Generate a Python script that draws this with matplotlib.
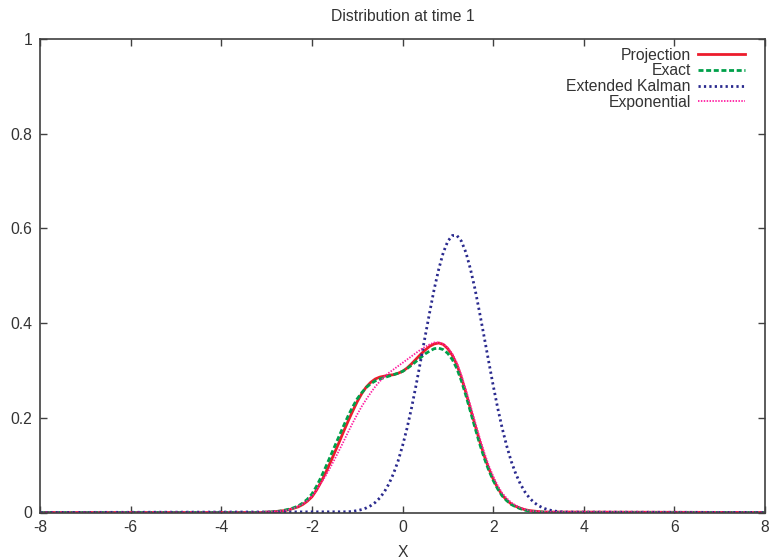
import numpy as np
import matplotlib
matplotlib.use("Agg")
import matplotlib.pyplot as plt

# densités, grille commune pas 0.1 (-3.2..3.2) + bords du domaine
x_grid = [-8.0] + [round(-3.2 + 0.1 * i, 1) for i in range(65)] + [8.0]
projection = [0.0,
              0.000, 0.000, 0.001, 0.001, 0.002, 0.003, 0.004, 0.006, 0.009, 0.012,
              0.017, 0.024, 0.033, 0.047, 0.064, 0.083, 0.104, 0.126, 0.148, 0.171,
              0.193, 0.214, 0.234, 0.251, 0.265, 0.275, 0.282, 0.286, 0.288, 0.290,
              0.291, 0.294, 0.298, 0.305, 0.314, 0.324, 0.334, 0.343, 0.351, 0.356,
              0.358, 0.355, 0.346, 0.332, 0.312, 0.285, 0.253, 0.219, 0.185, 0.152,
              0.121, 0.094, 0.071, 0.052, 0.037, 0.026, 0.018, 0.013, 0.009, 0.006,
              0.004, 0.003, 0.002, 0.001, 0.001,
              0.0]
exact = [0.0,
         0.000, 0.000, 0.001, 0.001, 0.002, 0.003, 0.005, 0.007, 0.010, 0.014,
         0.020, 0.028, 0.039, 0.055, 0.074, 0.095, 0.117, 0.139, 0.161, 0.183,
         0.204, 0.223, 0.240, 0.253, 0.264, 0.272, 0.278, 0.282, 0.285, 0.288,
         0.291, 0.294, 0.298, 0.304, 0.311, 0.319, 0.327, 0.335, 0.341, 0.346,
         0.347, 0.344, 0.336, 0.323, 0.304, 0.278, 0.247, 0.213, 0.179, 0.146,
         0.116, 0.090, 0.068, 0.050, 0.035, 0.025, 0.017, 0.012, 0.008, 0.005,
         0.003, 0.002, 0.001, 0.001, 0.000,
         0.0]
exponential = [0.0,
               0.000, 0.000, 0.001, 0.001, 0.002, 0.003, 0.004, 0.006, 0.009, 0.013,
               0.018, 0.025, 0.034, 0.047, 0.062, 0.077, 0.094, 0.112, 0.131, 0.150,
               0.170, 0.189, 0.207, 0.224, 0.239, 0.253, 0.266, 0.277, 0.287, 0.295,
               0.302, 0.309, 0.316, 0.323, 0.330, 0.337, 0.344, 0.350, 0.355, 0.359,
               0.359, 0.356, 0.348, 0.335, 0.316, 0.290, 0.259, 0.226, 0.192, 0.159,
               0.128, 0.100, 0.077, 0.057, 0.041, 0.030, 0.021, 0.015, 0.010, 0.007,
               0.004, 0.003, 0.002, 0.001, 0.001,
               0.0]

x_kalman = [-8.0] + [round(-1.2 + 0.1 * i, 1) for i in range(49)] + [8.0]
kalman = [0.0,
          0.0015, 0.0025, 0.004, 0.0062, 0.0096, 0.0145, 0.0214, 0.0309, 0.0437, 0.0605,
          0.0818, 0.108, 0.1405, 0.178, 0.221, 0.269, 0.320, 0.372, 0.423, 0.472,
          0.514, 0.549, 0.573, 0.585, 0.585, 0.573, 0.549, 0.514, 0.472, 0.423,
          0.372, 0.320, 0.269, 0.221, 0.178, 0.1405, 0.108, 0.0818, 0.0605, 0.0437,
          0.0309, 0.0214, 0.0145, 0.0096, 0.0062, 0.004, 0.0025, 0.0015, 0.0009,
          0.0]

x_ticks = [-8, -6, -4, -2, 0, 2, 4, 6, 8]
y_ticks = [0, 0.2, 0.4, 0.6, 0.8, 1]

plt.rcParams["font.family"] = ["Liberation Sans", "DejaVu Sans"]
plt.rcParams["axes.unicode_minus"] = False
txt = "#333333"
fs = 11.3

fig = plt.figure(figsize=(7.72, 5.59), dpi=100, facecolor="white")
ax = fig.add_axes([40 / 772, 1 - 512.5 / 559, 725 / 772, 473.5 / 559])

ax.plot(x_grid, projection, color="#ec1c2c", lw=2.0, label="Projection")
ax.plot(x_grid, exact, color="#00a04a", lw=2.0, dashes=(1.8, 0.95), label="Exact")
ax.plot(x_kalman, kalman, color="#2a2a8e", lw=2.0, dashes=(0.8, 1.15), label="Extended Kalman")
ax.plot(x_grid, exponential, color="#ff1ca0", lw=1.3, dashes=(0.8, 0.8), label="Exponential")

ax.set_xlim(-8, 8)
ax.set_ylim(0, 1)
ax.set_xticks(x_ticks)
ax.set_xticklabels([str(v) for v in x_ticks])
ax.set_yticks(y_ticks)
ax.set_yticklabels(["0", "0.2", "0.4", "0.6", "0.8", "1"])
ax.tick_params(direction="in", length=5, width=1, colors="#404040", labelcolor=txt,
               labelsize=fs, top=True, right=True)
ax.tick_params(axis="x", pad=5.5)
ax.tick_params(axis="y", pad=5.5)
for s in ax.spines.values():
    s.set_color("#404040")
    s.set_linewidth(1.2)

ax.set_title("Distribution at time 1", fontsize=fs, color=txt, pad=13)
ax.set_xlabel("X", fontsize=fs, color=txt, labelpad=7)

leg = ax.legend(loc="upper right", bbox_to_anchor=(705 / 725, 0.982), frameon=False,
                markerfirst=False, borderpad=0, borderaxespad=0, fontsize=fs,
                handlelength=3.0, handletextpad=0.45, labelspacing=0.05)
for t in leg.get_texts():
    t.set_color(txt)

fig.savefig("out.png", dpi=100, facecolor="white")
